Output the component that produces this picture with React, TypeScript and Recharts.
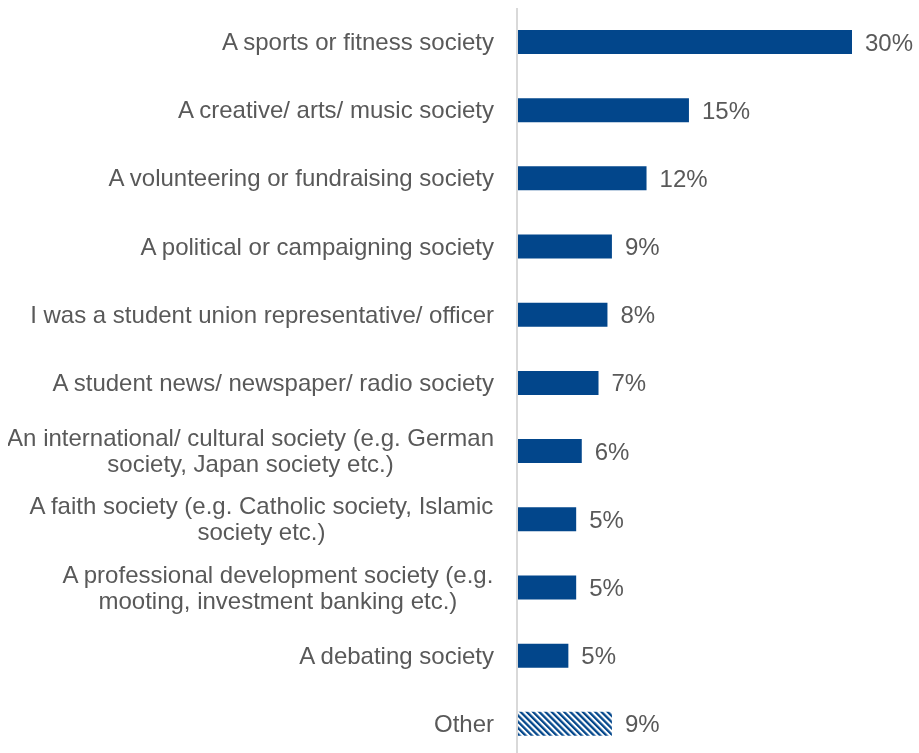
import React from 'react';
import { BarChart, Bar, XAxis, YAxis, Cell, LabelList } from 'recharts';

const categories = [
  'A sports or fitness society',
  'A creative/ arts/ music society',
  'A volunteering or fundraising society',
  'A political or campaigning society',
  'I was a student union representative/ officer',
  'A student news/ newspaper/ radio society',
  'An international/ cultural society (e.g. German|society, Japan society etc.)',
  'A faith society (e.g. Catholic society, Islamic|society etc.)',
  'A professional development society (e.g.|mooting, investment banking etc.)',
  'A debating society',
  'Other',
];

// bar lengths
const shares = [30, 15.4, 11.6, 8.5, 8.1, 7.3, 5.8, 5.3, 5.3, 4.6, 8.5];
// printed value labels
const shareLabels = ['30%', '15%', '12%', '9%', '8%', '7%', '6%', '5%', '5%', '5%', '9%'];

const data = categories.map((name, i) => ({
  name,
  value: shares[i],
  label: shareLabels[i],
}));

const NAVY = '#02468b';
const TEXT = '#595959';
const FONT = '"Liberation Sans", Arial, sans-serif';
const FS = 24;

let ctx: CanvasRenderingContext2D | null = null;
const measure = (s: string) => {
  if (!ctx) {
    ctx = document.createElement('canvas').getContext('2d');
    if (ctx) ctx.font = `${FS}px ${FONT}`;
  }
  return ctx ? ctx.measureText(s).width : s.length * FS * 0.5;
};

const CategoryTick = (props: any) => {
  const { x, y, payload } = props;
  const lines: string[] = String(payload.value).split('|');
  const right = x - 15;
  const lh = 26;
  const start = -((lines.length - 1) * lh) / 2;
  if (lines.length === 1) {
    return (
      <text x={right} y={y} dy={8} textAnchor="end" fill={TEXT} fontSize={FS} fontFamily={FONT}>
        {lines[0]}
      </text>
    );
  }
  // wrapped labels: block is right aligned, lines centred inside it
  const w = Math.max(...lines.map(measure));
  const cx = right - w / 2;
  return (
    <text x={cx} y={y} textAnchor="middle" fill={TEXT} fontSize={FS} fontFamily={FONT}>
      {lines.map((l, i) => (
        <tspan key={i} x={cx} dy={i === 0 ? start + 8 : lh}>
          {l}
        </tspan>
      ))}
    </text>
  );
};

export default function App() {
  // fixed so the chart (taller/wider than the page) doesn't trigger scrollbars
  return (
    <div style={{ position: 'fixed', top: 8, left: 8 }}>
      <BarChart
        width={911}
        height={750}
        data={data}
        layout="vertical"
        margin={{ top: 0, right: 0, bottom: 0, left: 0 }}
        barCategoryGap={22}
        style={{ overflow: 'visible' }}
      >
        <defs>
          <pattern
            id="hatch"
            width="4.4"
            height="4.4"
            patternUnits="userSpaceOnUse"
            patternTransform="rotate(-45)"
          >
            <rect width="4.4" height="4.4" fill="#ffffff" />
            <rect width="2.3" height="4.4" fill={NAVY} />
          </pattern>
        </defs>
        <XAxis type="number" domain={[0, 36]} hide />
        <YAxis
          type="category"
          dataKey="name"
          width={509}
          axisLine={{ stroke: '#d9d9d9', strokeWidth: 2 }}
          tickLine={false}
          tick={<CategoryTick />}
          interval={0}
        />
        <Bar dataKey="value" isAnimationActive={false} barSize={24}>
          {data.map((d, i) => (
            <Cell key={i} fill={d.name === 'Other' ? 'url(#hatch)' : NAVY} />
          ))}
          <LabelList
            dataKey="label"
            position="right"
            offset={13}
            fill={TEXT}
            fontSize={FS}
            fontFamily={FONT}
          />
        </Bar>
      </BarChart>
    </div>
  );
}
